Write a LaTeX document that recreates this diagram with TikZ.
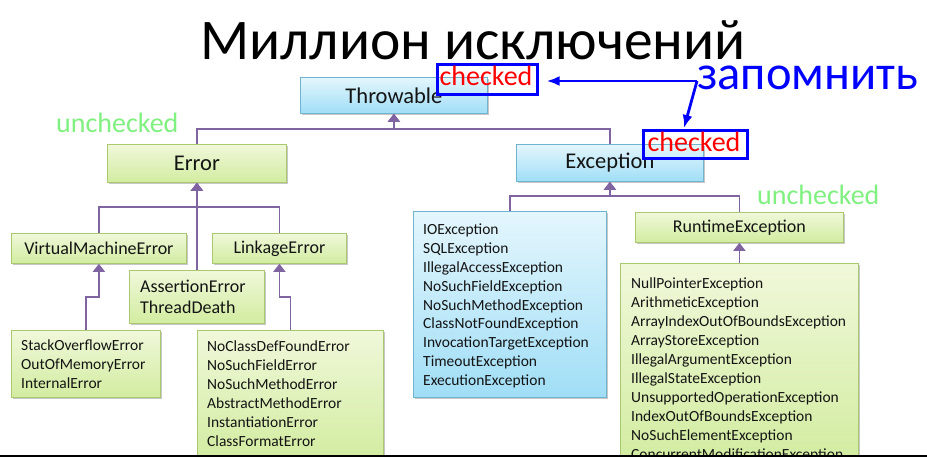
\documentclass[tikz,border=0pt]{standalone}
\usepackage{fontspec}
\setmainfont{Carlito}
\usetikzlibrary{arrows.meta,shadows,calc}
\definecolor{gtop}{RGB}{240,248,218}
\definecolor{gbot}{RGB}{210,236,160}
\definecolor{gline}{RGB}{170,200,112}
\definecolor{btop}{RGB}{228,246,253}
\definecolor{bbot}{RGB}{160,222,246}
\definecolor{bline}{RGB}{112,180,208}
\definecolor{conncol}{RGB}{128,100,162}
\definecolor{ucgreen}{RGB}{128,240,128}
\definecolor{txt}{RGB}{20,20,20}
\tikzset{
  box/.style={rectangle, anchor=north west, line width=0.8pt, inner sep=0pt, text=txt,
    drop shadow={shadow xshift=1.2pt, shadow yshift=-1.5pt, opacity=0.22, fill=black}},
  gbox/.style={box, draw=gline, top color=gtop, bottom color=gbot},
  bbox/.style={box, draw=bline, top color=btop, bottom color=bbot},
  conn/.style={draw=conncol, line width=1.5pt, -{Triangle[width=12pt,length=8pt]}},
  big/.style={font=\fontsize{22.5}{26}\selectfont},
  mid/.style={font=\fontsize{18}{21}\selectfont},
  item/.style={font=\fontsize{15.5}{19}\selectfont, anchor=base west, inner sep=0pt, text=txt},
  markbox/.style={draw=blue, line width=2.6pt, rectangle, anchor=north west, inner sep=0pt},
  redtxt/.style={font=\fontsize{28}{30}\selectfont, text=red, anchor=base, inner sep=0pt},
  uctxt/.style={font=\fontsize{28}{30}\selectfont, text=ucgreen, anchor=base west, inner sep=0pt},
  bluearrow/.style={draw=blue, line width=2.8pt, -{Latex[length=13pt,width=10pt]}}
}
\begin{document}
\begin{tikzpicture}[x=1pt,y=-1pt]
\useasboundingbox (0,0) rectangle (927,457);
\fill[white] (0,0) rectangle (927,457);

% title
\node[font=\fontsize{57.5}{60}\selectfont, anchor=base, inner sep=0pt] (title) at (473,60) {Миллион исключений};

% boxes
\node[bbox, minimum width=187pt, minimum height=36pt, big] (throwable) at (300,77) {Throwable};
\node[gbox, minimum width=179pt, minimum height=38pt, big] (error) at (107,144) {Error};
\node[bbox, minimum width=187pt, minimum height=37pt, big] (exception) at (516,144) {Exception};
\node[gbox, minimum width=175pt, minimum height=30pt, mid] (vm) at (11,233) {VirtualMachineError};
\node[gbox, minimum width=134pt, minimum height=30pt, mid] (linkage) at (212,233) {LinkageError};
\node[gbox, minimum width=135pt, minimum height=53pt] (assert) at (129,270) {};
\node[gbox, minimum width=149pt, minimum height=67pt] (so) at (11,330) {};
\node[gbox, minimum width=186pt, minimum height=130pt] (ncd) at (197,330) {};
\node[bbox, minimum width=193pt, minimum height=186pt] (io) at (413,211) {};
\node[gbox, minimum width=208pt, minimum height=30pt, mid] (rt) at (635,212) {RuntimeException};
\node[gbox, minimum width=238pt, minimum height=200pt] (np) at (620,263) {};

% list texts
\node[item, font=\fontsize{18}{21}\selectfont] (as1) at (140,293) {AssertionError};
\node[item, font=\fontsize{18}{21}\selectfont] (as2) at (140,314) {ThreadDeath};

\foreach \t [count=\i from 0] in {StackOverflowError,OutOfMemoryError,InternalError}
  \node[item] (so\i) at (21,{350.7+19*\i}) {\t};

\foreach \t [count=\i from 0] in {NoClassDefFoundError,NoSuchFieldError,NoSuchMethodError,AbstractMethodError,InstantiationError,ClassFormatError}
  \node[item] (ncd\i) at (207,{351.7+18.9*\i}) {\t};

\foreach \t [count=\i from 0] in {IOException,SQLException,IllegalAccessException,NoSuchFieldException,NoSuchMethodException,ClassNotFoundException,InvocationTargetException,TimeoutException,ExecutionException}
  \node[item] (io\i) at (423,{235+18.8*\i}) {\t};

\foreach \t [count=\i from 0] in {NullPointerException,ArithmeticException,ArrayIndexOutOfBoundsException,ArrayStoreException,IllegalArgumentException,IllegalStateException,UnsupportedOperationException,IndexOutOfBoundsException,NoSuchElementException,ConcurrentModificationException}
  \node[item] (np\i) at (631,{289+18.95*\i}) {\t};

% connectors
\draw[conn] (error.north) -- ++(0,-15) -| (throwable.south);
\draw[conn] (exception.north) -- ++(0,-15) -| (throwable.south);
\draw[conn] (vm.north) -- ++(0,-26) -| (error.south);
\draw[conn] (linkage.north) -- ++(0,-26) -| (error.south);
\draw[conn] (assert.north) -- (error.south);
\draw[conn] (so.north) -- ++(0,-33) -| (vm.south);
\draw[conn] (ncd.north) -- ++(0,-33) -| (linkage.south);
\draw[conn] (io.north) -- ++(0,-15) -| (exception.south);
\draw[conn] (rt.north) -- ++(0,-16) -| (exception.south);
\draw[conn] (np.north) -- (rt.south);

% annotations
\node[markbox, minimum width=100pt, minimum height=30pt] (chk1) at (436,63) {};
\node[redtxt] (chk1t) at (486,86) {checked};
\node[markbox, minimum width=104pt, minimum height=28pt] (chk2) at (642,129) {};
\node[redtxt] (chk2t) at (694,152) {checked};
\node[uctxt] (uc1) at (56,133) {unchecked};
\node[uctxt] (uc2) at (757,205) {unchecked};
\node[font=\fontsize{48.5}{52}\selectfont, text=blue, anchor=base west, inner sep=0pt] (remember) at (697,90) {запомнить};
\coordinate (zp) at (697,81);
\draw[bluearrow, shorten >=8pt] (zp) -- (zp -| chk1.east);
\draw[bluearrow] (zp) -- ($(chk2.north west)+(42,-1)$);

% bottom bar
\fill[black] (0,455) rectangle (927,457);
\end{tikzpicture}
\end{document}
